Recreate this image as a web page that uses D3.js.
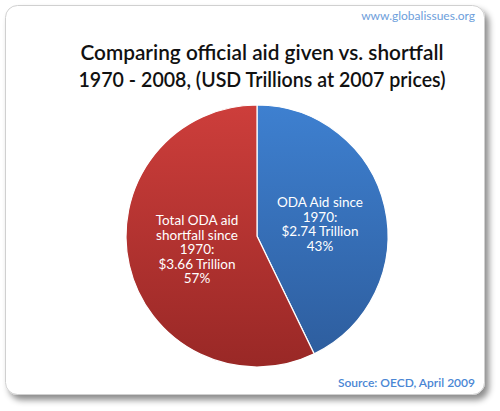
<!DOCTYPE html>
<html>
<head>
<meta charset="utf-8">
<script src="https://cdn.jsdelivr.net/npm/d3@7"></script>
<style>
  body { margin: 0; background: #fff; }
  svg { display: block; font-family: Lato, "Open Sans", sans-serif; }
</style>
</head>
<body>
<script>
// chart data
var sliceNames = ["ODA Aid since 1970", "Total ODA aid shortfall since 1970"];
var sliceValues = [2.74, 3.66];
var sliceLabels = [
    ["ODA Aid since", "1970:", "$2.74 Trillion", "43%"],
    ["Total ODA aid", "shortfall since", "1970:", "$3.66 Trillion", "57%"]
];
var titleLines = ["Comparing official aid given vs. shortfall", "1970 - 2008, (USD Trillions at 2007 prices)"];

var width = 500, height = 411,
    cx = 257, cy = 236, radius = 131;

var svg = d3.select("body").append("svg")
    .attr("width", width)
    .attr("height", height);

var defs = svg.append("defs");

var shadow = defs.append("filter")
    .attr("id", "shadow")
    .attr("x", "-10%").attr("y", "-10%")
    .attr("width", "130%").attr("height", "130%");
shadow.append("feDropShadow")
    .attr("dx", 4).attr("dy", 5)
    .attr("stdDeviation", 3)
    .attr("flood-color", "#000")
    .attr("flood-opacity", 0.45);

// slice gradients, light at top, dark at bottom (pie group coords)
var grads = [["blueGrad", "#3e80d0", "#2d5c9c"], ["redGrad", "#cd3e3b", "#992826"]];
grads.forEach(g => {
    var lg = defs.append("linearGradient")
        .attr("id", g[0])
        .attr("gradientUnits", "userSpaceOnUse")
        .attr("x1", 0).attr("y1", -radius)
        .attr("x2", 0).attr("y2", radius);
    lg.append("stop").attr("offset", "0%").attr("stop-color", g[1]);
    lg.append("stop").attr("offset", "100%").attr("stop-color", g[2]);
});

// card
svg.append("rect")
    .attr("x", 5.5).attr("y", 5.5)
    .attr("width", 479).attr("height", 389)
    .attr("rx", 12)
    .attr("fill", "#fff")
    .attr("stroke", "#d0d0d0")
    .attr("stroke-width", 1)
    .attr("filter", "url(#shadow)");

svg.append("text")
    .attr("x", 475).attr("y", 20)
    .attr("text-anchor", "end")
    .attr("fill", "#6d9edb")
    .style("font-size", "12px")
    .text("www.globalissues.org");

svg.append("g").selectAll("text")
    .data(titleLines)
    .enter().append("text")
    .attr("x", 262)
    .attr("y", (d, i) => 60 + i * 27)
    .attr("text-anchor", "middle")
    .attr("fill", "#111")
    .attr("textLength", (d, i) => i == 0 ? 363 : 367)
    .attr("lengthAdjust", "spacingAndGlyphs")
    .style("font-size", "21px")
    .style("font-weight", "600")
    .text(d => d);

var pie = d3.pie().sort(null)(sliceValues);
var arc = d3.arc().innerRadius(0).outerRadius(radius);

var pieG = svg.append("g")
    .attr("transform", "translate(" + cx + "," + cy + ")");

pieG.selectAll("path")
    .data(pie)
    .enter().append("path")
    .attr("d", arc)
    .attr("fill", (d, i) => "url(#" + grads[i][0] + ")")
    .attr("stroke", "#fff")
    .attr("stroke-width", 1.2);

var labelPos = [[320, 207], [197, 225]];
pieG.selectAll("g.lbl")
    .data(sliceLabels)
    .enter().append("g")
    .attr("class", "lbl")
    .each(function (lines, i) {
        d3.select(this).selectAll("text")
            .data(lines)
            .enter().append("text")
            .attr("x", labelPos[i][0] - cx)
            .attr("y", (d, j) => labelPos[i][1] - cy + j * 14.5)
            .attr("text-anchor", "middle")
            .attr("fill", "#fff")
            .style("font-size", "13.5px")
            .text(d => d);
    });

svg.append("text")
    .attr("x", 475).attr("y", 387)
    .attr("text-anchor", "end")
    .attr("fill", "#4a86d4")
    .style("font-size", "12px")
    .style("font-weight", "600")
    .text("Source: OECD, April 2009");
</script>
</body>
</html>
